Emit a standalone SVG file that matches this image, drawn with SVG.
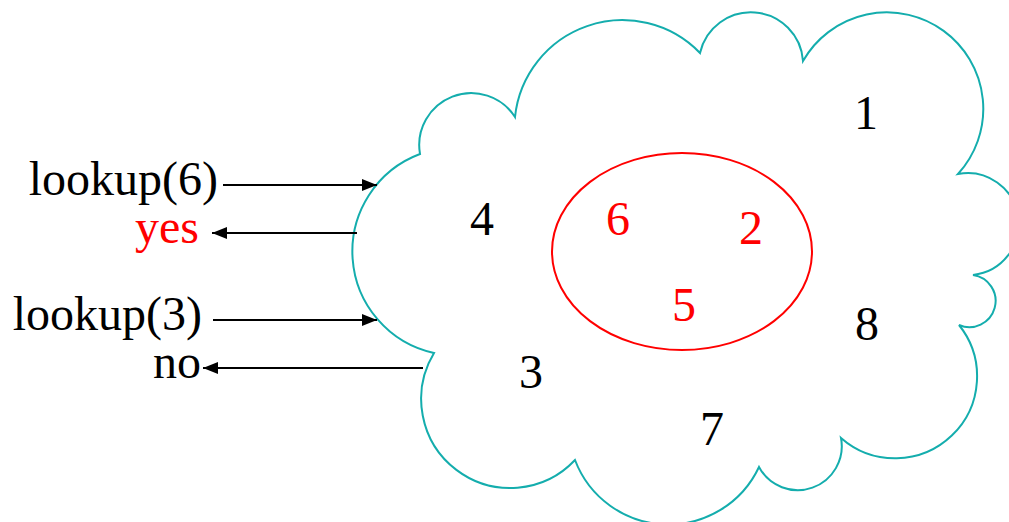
<svg xmlns="http://www.w3.org/2000/svg" width="1009" height="522" viewBox="0 0 1009 522">
<defs>
  <marker id="ah" markerUnits="userSpaceOnUse" markerWidth="16" markerHeight="12" refX="15" refY="6" orient="auto">
    <path d="M0,0 L15,6 L0,12 z" fill="#000"/>
  </marker>
</defs>
<rect width="1009" height="522" fill="#fff"/>
<g id="cloud">
  <path d="M434,353 A104,104 0 0 1 420,154 A52,52 0 0 1 515,117 A108,108 0 0 1 700,53 A52.2,52.2 0 0 1 803,61 A96.5,96.5 0 1 1 958,174 A51.1,51.1 0 1 1 973,275 A26.2,26.2 0 1 1 959,325 A82,82 0 0 1 841,438 A44,44 0 0 1 759,467 A100,100 0 0 1 575,460 A89,89 0 0 1 434,353 Z" fill="none" stroke="#14adad" stroke-width="2"/>
</g>
<g id="subset">
  <ellipse cx="682" cy="251.5" rx="130" ry="98.5" fill="none" stroke="#ff0000" stroke-width="2"/>
</g>
<g id="elements">
  <text font-family="Liberation Serif" font-size="48" text-anchor="middle" fill="#000" x="482" y="235">4</text>
  <text font-family="Liberation Serif" font-size="48" text-anchor="middle" fill="#000" x="531" y="388">3</text>
  <text font-family="Liberation Serif" font-size="48" text-anchor="middle" fill="#000" x="866" y="129">1</text>
  <text font-family="Liberation Serif" font-size="48" text-anchor="middle" fill="#000" x="867" y="340">8</text>
  <text font-family="Liberation Serif" font-size="48" text-anchor="middle" fill="#000" x="712" y="445">7</text>
  <text font-family="Liberation Serif" font-size="48" text-anchor="middle" fill="#ff0000" x="618" y="235">6</text>
  <text font-family="Liberation Serif" font-size="48" text-anchor="middle" fill="#ff0000" x="751" y="244">2</text>
  <text font-family="Liberation Serif" font-size="48" text-anchor="middle" fill="#ff0000" x="684" y="321">5</text>
</g>
<g id="labels">
  <text font-family="Liberation Serif" font-size="48" text-anchor="end" fill="#000" x="218" y="195">lookup(6)</text>
  <text font-family="Liberation Serif" font-size="48" text-anchor="end" fill="#ff0000" x="199" y="243">yes</text>
  <text font-family="Liberation Serif" font-size="48" text-anchor="end" fill="#000" x="202" y="330">lookup(3)</text>
  <text font-family="Liberation Serif" font-size="48" text-anchor="end" fill="#000" x="201" y="378">no</text>
</g>
<g id="connectors" stroke="#000" stroke-width="2" fill="none" marker-end="url(#ah)">
  <line x1="223" y1="185" x2="377" y2="185"/>
  <line x1="357" y1="233" x2="212" y2="233"/>
  <line x1="213" y1="320" x2="377" y2="320"/>
  <line x1="423" y1="368" x2="203" y2="368"/>
</g>
</svg>
